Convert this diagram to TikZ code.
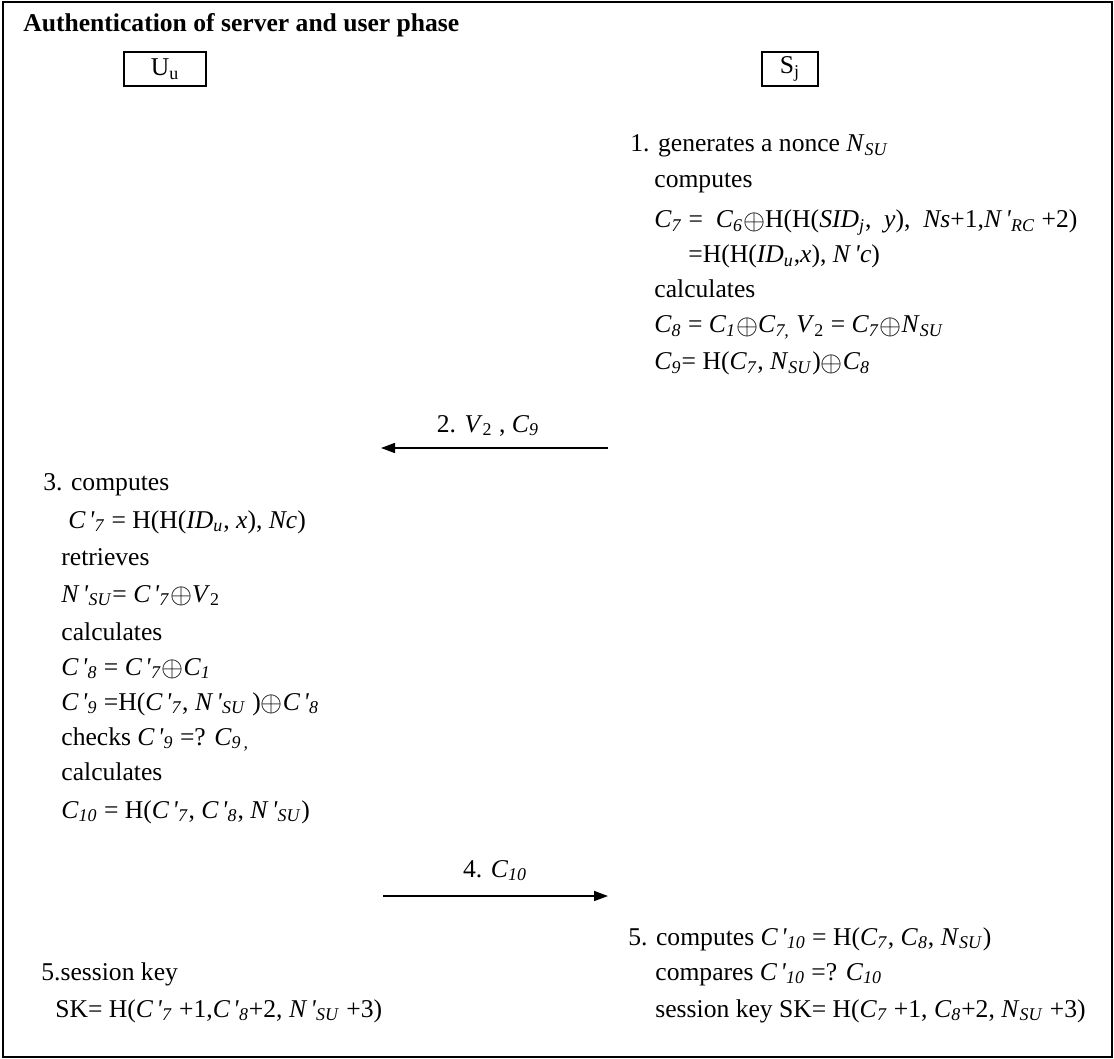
\documentclass[tikz,border=0pt]{standalone}
\usepackage{fontspec}
\setmainfont{Liberation Serif}[Ligatures=TeXOff]
\usetikzlibrary{arrows.meta}
% italic variable, italic subscript, xor sign, spaced prime
\newcommand\vi[1]{\textit{#1}}
\newcommand\sub[1]{\textsubscript{\textit{#1}}}
\newcommand\xor{\raisebox{-0.06em}{\scalebox{1.18}{$\oplus$}}}
\newcommand\pr{\hspace{0.12em}\textit{'}}
\begin{document}
\begin{tikzpicture}[x=0.5pt,y=-0.5pt,
  txt/.style={anchor=base west,inner sep=0pt,font=\fontsize{12.8}{15}\selectfont},
  party/.style={draw,line width=0.6pt,minimum width=41pt,minimum height=17pt,inner sep=0pt,font=\fontsize{12.8}{15}\selectfont},
  msg/.style={line width=0.8pt,-{Triangle[length=7pt,width=5pt]}}]
\useasboundingbox (0,0) rectangle (1114,1059);
\draw[line width=1pt] (3,2) rectangle (1112,1057);

\node[txt] (title) at (23,32) {\textbf{Authentication of server and user phase}};

\node[party] (U) at (165,69) {U\textsubscript{u}};
\node[party,minimum width=28pt] (S) at (790,69) {S\textsubscript{j}};

% server: step 1
\node[txt] (r1) at (630,152) {1. generates a nonce \vi{N}\sub{SU}};
\node[txt] (r2) at (654,188) {computes};
\node[txt] (r3) at (654,228) {\vi{C}\sub{7} = \ \vi{C}\sub{6}\xor H(H(\vi{SID}\sub{j}, \ \vi{y}), \ \vi{Ns}+1,\vi{N}\pr\sub{RC} +2)};
\node[txt] (r4) at (688,263) {=H(H(\vi{ID}\sub{u},\vi{x}), \vi{N}\pr\vi{c})};
\node[txt] (r5) at (654,298) {calculates};
\node[txt] (r6) at (654,333) {\vi{C}\sub{8} = \vi{C}\sub{1}\xor\vi{C}\sub{7,} \vi{V}\textsubscript{2} = \vi{C}\sub{7}\xor\vi{N}\sub{SU}};
\node[txt] (r7) at (654,370) {\vi{C}\sub{9}= H(\vi{C}\sub{7}, \vi{N}\sub{SU})\xor\vi{C}\sub{8}};

% message 2
\coordinate (m2s) at (608,448);
\coordinate (m2e) at (381,448);
\draw[msg] (m2s) -- (m2e);
\node[txt,anchor=base] (m2) at (488,432) {2. \vi{V}\textsubscript{2} , \vi{C}\sub{9}};

% user: step 3
\node[txt] (l1) at (43,490) {3. computes};
\node[txt] (l2) at (68,528) {\vi{C}\pr\sub{7} = H(H(\vi{ID}\sub{u}, \vi{x}), \vi{Nc})};
\node[txt] (l3) at (61,565) {retrieves};
\node[txt] (l4) at (61,602) {\vi{N}\pr\sub{SU}= \vi{C}\pr\sub{7}\xor\vi{V}\textsubscript{2}};
\node[txt] (l5) at (61,640) {calculates};
\node[txt] (l6) at (61,675) {\vi{C}\pr\sub{8} = \vi{C}\pr\sub{7}\xor\vi{C}\sub{1}};
\node[txt] (l7) at (61,710) {\vi{C}\pr\sub{9} =H(\vi{C}\pr\sub{7}, \vi{N}\pr\sub{SU} )\xor\vi{C}\pr\sub{8}};
\node[txt] (l8) at (61,745) {checks \vi{C}\pr\sub{9} =? \vi{C}\sub{9\,,}};
\node[txt] (l9) at (61,780) {calculates};
\node[txt] (l10) at (61,818) {\vi{C}\sub{10} = H(\vi{C}\pr\sub{7}, \vi{C}\pr\sub{8}, \vi{N}\pr\sub{SU})};

% message 4
\coordinate (m4s) at (383,896);
\coordinate (m4e) at (608,896);
\draw[msg] (m4s) -- (m4e);
\node[txt,anchor=base] (m4) at (495,877) {4. \vi{C}\sub{10}};

% server: step 5
\node[txt] (s1) at (628,945) {5. computes \vi{C}\pr\sub{10} = H(\vi{C}\sub{7}, \vi{C}\sub{8}, \vi{N}\sub{SU})};
\node[txt] (s2) at (655,980) {compares \vi{C}\pr\sub{10} =? \vi{C}\sub{10}};
\node[txt] (s3) at (655,1017) {session key SK= H(\vi{C}\sub{7} +1, \vi{C}\sub{8}+2, \vi{N}\sub{SU} +3)};

% user: step 5
\node[txt] (u1) at (41,980) {5.session key};
\node[txt] (u2) at (55,1017) {SK= H(\vi{C}\pr\sub{7} +1,\vi{C}\pr\sub{8}+2, \vi{N}\pr\sub{SU} +3)};
\end{tikzpicture}
\end{document}
